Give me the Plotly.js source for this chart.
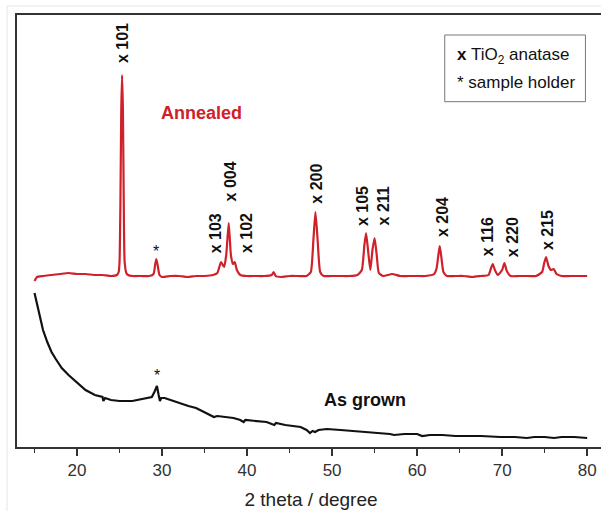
<!DOCTYPE html>
<html>
<head>
<meta charset="utf-8">
<script src="https://cdn.plot.ly/plotly-3.0.1.min.js"></script>
<style>
html,body{margin:0;padding:0;overflow:hidden;background:#fff;width:601px;height:511px;}
#chart{width:610px;height:530px;}
</style>
</head>
<body>
<div id="chart"></div>
<script>
// ---- data (2 theta in degrees, intensity in arbitrary units) ----
const annealedTheta = [15.0,15.3,16,17,18,19,20,21,22,23,24,24.7,24.9,25.0,25.1,25.2,25.3,25.4,25.5,25.6,25.8,26.0,26.5,27.5,28.5,29.0,29.2,29.33,29.5,29.7,30,31,32,33,34,35,36,36.5,36.94,37.3,37.55,37.84,38.1,38.35,38.55,38.8,39.2,40,41,42,42.9,43.13,43.35,44,45,46,47,47.5,47.8,48.04,48.3,48.6,49,50,51,52,53,53.5,53.8,54.0,54.25,54.5,54.75,55.0,55.25,55.5,56,57.06,58,59,60,61,62,62.3,62.5,62.66,62.85,63.1,63.5,64.5,65.5,66.5,67.5,68.4,68.7,68.9,69.15,69.5,70.0,70.27,70.55,71,72,73,74,74.7,74.95,75.17,75.45,75.75,76.07,76.4,77,78,79,80];
const annealedInt   = [166,170,171,172,173,174,173,173,172,172,171,172,175,185,240,335,372,335,240,185,174,172,171,171,171,173,183,188,181,172,170,171,171,170,171,171,172,174,185,180,192,224,192,183,185,177,172,171,171,171,172,175,171,170,171,171,171,175,207,235,207,175,171,171,171,171,172,177,202,214,195,177,197,209,192,174,171,173,171,171,171,171,173,179,192,201,190,175,171,171,171,170,171,172,179,183,177,172,177,184,176,171,171,171,171,175,184,190,181,177,178,173,171,171,171,171];

const grownTheta = [15.0,15.25,15.5,16.0,16.5,17.0,17.5,18.2,19.0,19.4,20.0,21.0,22.1,22.6,23.0,23.1,23.3,24.0,25.0,26.5,27.5,28.0,28.8,29.1,29.4,29.6,29.75,29.9,30.3,31.0,31.6,32.4,33.1,34.0,34.7,35.5,36.1,36.5,37.5,38.4,39.2,39.6,39.8,41.0,42.3,43.2,43.4,44.5,45.5,46.3,47.0,47.4,47.7,48.0,48.4,49.4,51.0,52.5,54.1,55.5,56.8,57.3,58.5,60.0,60.6,61.5,63.0,64.5,65.9,67.5,69.8,71.5,72.9,73.8,75.0,76.1,77.0,78.5,80.0];
const grownInt   = [154,144,134,117,105,95,88,79,72,69,64,57,52,51,50,46,49,47,46,46,48,49,50,55,61,52,46,49,49,47,45,43,41,39,36,33,30,31,30,29,27,25,27,26,25,22,24,22,21,20,17,14,16,15,17,18,17,16,15,14,13,12,13,13,11,12,12,11,11,11,10,10,9,10,10,9,10,10,9];

// peak labels (anatase reflections) and where they sit
const peakLabels = ["x 101","x 103","x 004","x 102","x 200","x 105","x 211","x 204","x 116","x 220","x 215"];
const peakLabelTheta = [25.3,36.27,38.04,39.88,48.07,53.53,56.04,62.94,68.24,71.18,75.29];
const peakLabelInt   = [404,214,266,214,263,241,241,230,210,210,217];

const holderTheta = [29.33, 29.4];
const holderInt = [196, 72];

const tickVals = [20,30,40,50,60,70,80];
const tickText = ["20","30","40","50","60","70","80"];

const RED = '#d0202a';
const FONT = '"Liberation Sans", Arial, sans-serif';

const traces = [
  {x: annealedTheta, y: annealedInt, type:'scatter', mode:'lines', name:'Annealed',
   line:{color:RED, width:2.2, shape:'spline', smoothing:0.5}, hoverinfo:'skip'},
  {x: grownTheta, y: grownInt, type:'scatter', mode:'lines', name:'As grown',
   line:{color:'#111', width:2.2}, hoverinfo:'skip'}
];

const annotations = [];
peakLabels.forEach((t,i)=>{
  annotations.push({x:peakLabelTheta[i], y:peakLabelInt[i], xref:'x', yref:'y',
    text:'<b>'+t+'</b>', textangle:-90, showarrow:false, xanchor:'center', yanchor:'middle',
    font:{family:FONT, size:16, color:'#111'}});
});
holderTheta.forEach((x,i)=>{
  annotations.push({x:x, y:holderInt[i], xref:'x', yref:'y', text:'*', showarrow:false,
    xanchor:'center', yanchor:'middle', font:{family:FONT, size:16, color:'#111'}});
});
annotations.push({x:34.68, y:334, xref:'x', yref:'y', text:'<b>Annealed</b>', showarrow:false,
  xanchor:'center', yanchor:'middle', font:{family:FONT, size:18, color:RED}});
annotations.push({x:53.92, y:47, xref:'x', yref:'y', text:'<b>As grown</b>', showarrow:false,
  xanchor:'center', yanchor:'middle', font:{family:FONT, size:18, color:'#111'}});
annotations.push({x:64.5, y:391, xref:'x', yref:'y', text:'<b>x</b> TiO<sub>2</sub> anatase', showarrow:false,
  xanchor:'left', yanchor:'middle', font:{family:FONT, size:17, color:'#111'}});
annotations.push({x:64.5, y:365, xref:'x', yref:'y', text:'* sample holder', showarrow:false,
  xanchor:'left', yanchor:'middle', font:{family:FONT, size:17, color:'#111'}});

const shapes = [
  {type:'rect', xref:'x', yref:'y', x0:63.25, x1:79.8, y0:345.3, y1:412,
   line:{color:'#777', width:1}, fillcolor:'rgba(0,0,0,0)'},
  {type:'line', xref:'paper', yref:'paper', x0:-0.017, x1:-0.017, y0:-0.2, y1:1.021,
   line:{color:'#e6e6e6', width:1}},
  {type:'line', xref:'paper', yref:'paper', x0:-0.017, x1:1.05, y0:1.021, y1:1.021,
   line:{color:'#e6e6e6', width:1}}
];

const layout = {
  width:610, height:530,
  margin:{l:17, r:5, t:15, b:83},
  paper_bgcolor:'#fff', plot_bgcolor:'#fff',
  showlegend:false,
  font:{family:FONT, color:'#222'},
  xaxis:{
    range:[12.94, 82.1], tickvals:tickVals, ticktext:tickText,
    ticks:'outside', ticklen:7, tickwidth:1.5, tickcolor:'#333',
    minor:{dtick:5, tick0:0, ticks:'outside', ticklen:4, tickwidth:1.5, tickcolor:'#333', showgrid:false},
    showline:true, linewidth:2, linecolor:'#333', mirror:true,
    showgrid:false, zeroline:false,
    tickfont:{family:FONT, size:17, color:'#333'},
    title:{text:'2 theta / degree', font:{family:FONT, size:19, color:'#222'}, standoff:13}
  },
  yaxis:{
    range:[0,432], showticklabels:false, ticks:'', showgrid:false, zeroline:false,
    showline:true, linewidth:2, linecolor:'#333', mirror:true
  },
  annotations:annotations,
  shapes:shapes
};

Plotly.newPlot('chart', traces, layout, {displayModeBar:false, staticPlot:true});
</script>
</body>
</html>
